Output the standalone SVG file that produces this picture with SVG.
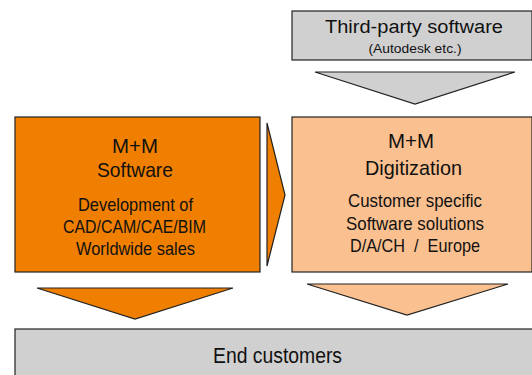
<svg xmlns="http://www.w3.org/2000/svg" width="532" height="375" viewBox="0 0 532 375">
<style>
text{font-family:"Liberation Sans",Arial,sans-serif;fill:#111;text-anchor:middle}
.t{font-size:21px}.m{font-size:18px}.s{font-size:18.5px}.xs{font-size:12px}.e{font-size:22.5px}
.b{stroke:#222;stroke-width:1.2}
</style>
<rect width="532" height="375" fill="#fff"/>
<g id="third-party">
<rect class="b" x="292" y="11" width="240" height="49" fill="#d0d0d0"/>
<text class="m" x="414" y="33" textLength="178" lengthAdjust="spacingAndGlyphs">Third-party software</text>
<text class="xs" x="415" y="53" textLength="93" lengthAdjust="spacingAndGlyphs">(Autodesk etc.)</text>
</g>
<g id="mm-software">
<rect class="b" x="15" y="117" width="245" height="155" fill="#f07f00"/>
<text class="t" x="135" y="152.5" textLength="46" lengthAdjust="spacingAndGlyphs">M+M</text>
<text class="t" x="135" y="177" textLength="76" lengthAdjust="spacingAndGlyphs">Software</text>
<text class="s" x="135.5" y="210.5" textLength="115" lengthAdjust="spacingAndGlyphs">Development of</text>
<text class="s" x="134.5" y="232.5" textLength="143" lengthAdjust="spacingAndGlyphs">CAD/CAM/CAE/BIM</text>
<text class="s" x="135.5" y="254.5" textLength="119" lengthAdjust="spacingAndGlyphs">Worldwide sales</text>
</g>
<g id="mm-digitization">
<rect class="b" x="292" y="117" width="240" height="155" fill="#fac090"/>
<text class="t" x="411" y="148" textLength="46" lengthAdjust="spacingAndGlyphs">M+M</text>
<text class="t" x="413.5" y="175" textLength="97" lengthAdjust="spacingAndGlyphs">Digitization</text>
<text class="s" x="415" y="207" textLength="134" lengthAdjust="spacingAndGlyphs">Customer specific</text>
<text class="s" x="415" y="230" textLength="138" lengthAdjust="spacingAndGlyphs">Software solutions</text>
<text class="s" x="415" y="252" textLength="130" lengthAdjust="spacingAndGlyphs" xml:space="preserve">D/A/CH  /  Europe</text>
</g>
<g id="end-customers">
<rect class="b" x="15" y="329" width="520" height="50" fill="#d0d0d0"/>
<text class="e" x="277.5" y="363" textLength="129" lengthAdjust="spacingAndGlyphs">End customers</text>
</g>
<g id="connectors">
<polygon class="b" points="315,72 515,72 415,104" fill="#d0d0d0"/>
<polygon class="b" points="267,123 285,195 267,266" fill="#f07f00"/>
<polygon class="b" points="37,288 233,288 135,319" fill="#f07f00"/>
<polygon class="b" points="307,284 508,284 407,315" fill="#fac090"/>
</g>
</svg>
